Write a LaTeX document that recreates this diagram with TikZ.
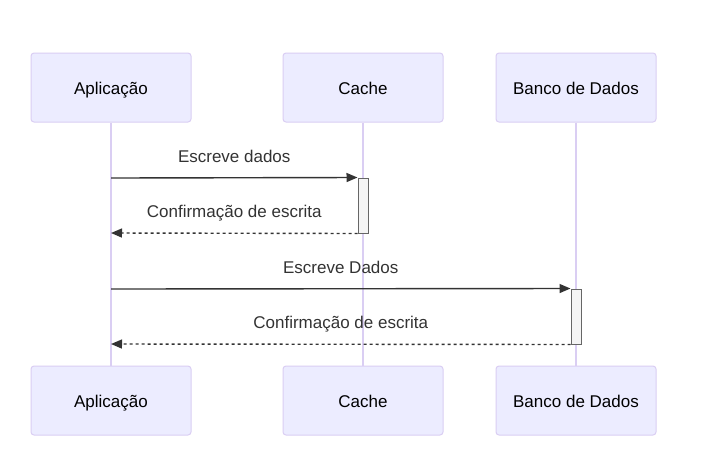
\documentclass[tikz,border=0pt]{standalone}
\usepackage{fontspec}
\setmainfont{Liberation Sans}
\usetikzlibrary{arrows.meta}
\definecolor{atorfundo}{HTML}{ECECFF}
\definecolor{atorborda}{HTML}{DACEF3}
\definecolor{ativfundo}{HTML}{F4F4F4}
\definecolor{ativborda}{HTML}{666666}
\definecolor{msgcor}{HTML}{333333}
\tikzset{
  texto/.style={font=\fontsize{17}{20}\selectfont,text height=14.5pt,text depth=0pt},
  ator/.style={texto,draw=atorborda,fill=atorfundo,rounded corners=3pt,line width=1pt,
    minimum width=160pt,minimum height=69pt},
  vida/.style={draw=atorborda,line width=1.2pt},
  ativ/.style={draw=ativborda,fill=ativfundo,line width=1pt,minimum width=10pt,
    minimum height=55pt,inner sep=0pt},
  msg/.style={draw=msgcor,line width=1.4pt,-{Triangle[length=11pt,width=9pt]}},
  ret/.style={msg,dashed,dash pattern=on 3pt off 3pt},
  rotulo/.style={texto,text=msgcor,yshift=23pt}
}
\begin{document}
\begin{tikzpicture}[x=1pt,y=-1pt]
   \fill[white] (0,0) rectangle (706,475);
   \useasboundingbox (0,0) rectangle (706,475);
   % participantes
   \node[ator] (apTop) at (111,87.5) {Aplicação};
   \node[ator] (caTop) at (363,87.5) {Cache};
   \node[ator] (bdTop) at (576,87.5) {Banco de Dados};
   \node[ator] (apBot) at (111,400.5) {Aplicação};
   \node[ator] (caBot) at (363,400.5) {Cache};
   \node[ator] (bdBot) at (576,400.5) {Banco de Dados};
   \draw[vida] (apTop) -- (apBot);
   \draw[vida] (caTop) -- (caBot);
   \draw[vida] (bdTop) -- (bdBot);
   % ativacoes
   \node[ativ] (caAtiv) at (363,205.5) {};
   \node[ativ] (bdAtiv) at (576,316.5) {};
   \coordinate (ap1) at (111,178);
   \coordinate (ap2) at (111,233);
   \coordinate (ap3) at (111,289);
   \coordinate (ap4) at (111,344);
   % mensagens
   \draw[msg] (ap1) -- (caAtiv.north west) node[midway,rotulo]{Escreve dados};
   \draw[ret] (caAtiv.south west) -- (ap2) node[midway,rotulo]{Confirmação de escrita};
   \draw[msg] (ap3) -- (bdAtiv.north west) node[midway,rotulo]{Escreve Dados};
   \draw[ret] (bdAtiv.south west) -- (ap4) node[midway,rotulo]{Confirmação de escrita};
\end{tikzpicture}
\end{document}
